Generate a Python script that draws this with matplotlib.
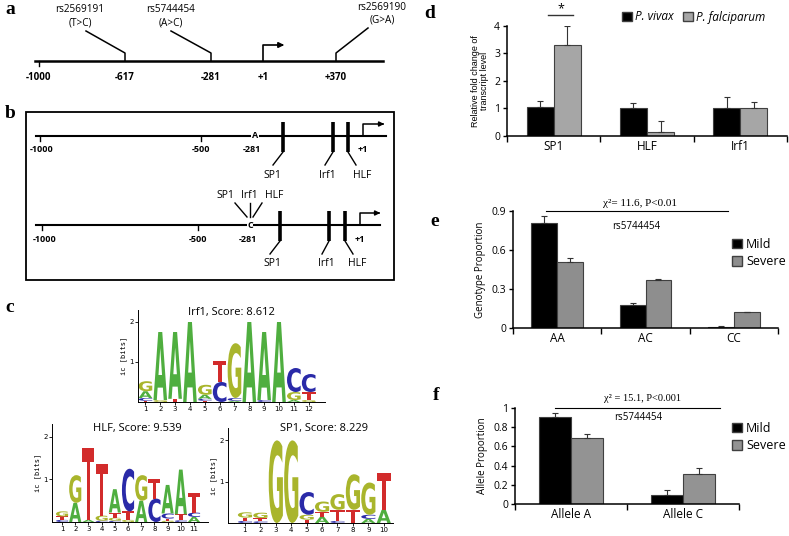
import numpy as np
import matplotlib
matplotlib.use("Agg")
import matplotlib.pyplot as plt
from matplotlib.patches import Patch, PathPatch, Rectangle
from matplotlib.textpath import TextPath
from matplotlib.font_manager import FontProperties
from matplotlib.transforms import Affine2D

W, H = 789, 536

# -----------------------------
# data
# -----------------------------
# panel d: relative fold change
d_cats = ["SP1", "HLF", "Irf1"]
d_vivax = [1.05, 1.0, 1.0]
d_vivax_err = [0.22, 0.2, 0.4]
d_falci = [3.3, 0.15, 1.02]
d_falci_err = [0.7, 0.4, 0.2]

# panel e: genotype proportion
e_cats = ["AA", "AC", "CC"]
e_mild = [0.81, 0.18, 0.01]
e_mild_err = [0.05, 0.01, 0.003]
e_severe = [0.51, 0.37, 0.12]
e_severe_err = [0.03, 0.01, 0.003]

# panel f: allele proportion
f_cats = ["Allele A", "Allele C"]
f_mild = [0.91, 0.09]
f_mild_err = [0.04, 0.06]
f_severe = [0.69, 0.31]
f_severe_err = [0.04, 0.065]

# panel a: SNP positions
a_ticks = ["-1000", "-617", "-281", "+1", "+370"]
a_snps = [("rs2569191", "(T>C)"), ("rs5744454", "(A>C)"), ("rs2569190", "(G>A)")]

# panel c: sequence logos, stacks bottom -> top (letter, bits)
irf1_logo = [
    [("T", 0.03), ("C", 0.07), ("A", 0.17), ("G", 0.25)],
    [("G", 0.05), ("A", 1.7)],
    [("T", 0.08), ("A", 1.67)],
    [("A", 2.0)],
    [("T", 0.03), ("C", 0.05), ("A", 0.1), ("G", 0.25)],
    [("C", 0.5), ("T", 0.52)],
    [("A", 0.03), ("C", 0.07), ("G", 1.37)],
    [("A", 2.0)],
    [("C", 0.05), ("A", 1.7)],
    [("A", 2.0)],
    [("A", 0.05), ("G", 0.2), ("C", 0.6)],
    [("G", 0.05), ("T", 0.2), ("C", 0.45)],
]
hlf_logo = [
    [("C", 0.05), ("T", 0.08), ("G", 0.12)],
    [("A", 0.45), ("G", 0.65)],
    [("A", 0.05), ("T", 1.68)],
    [("C", 0.03), ("G", 0.12), ("T", 1.2)],
    [("C", 0.03), ("G", 0.07), ("T", 0.12), ("A", 0.55)],
    [("G", 0.05), ("T", 0.2), ("C", 1.0)],
    [("A", 0.5), ("G", 0.6)],
    [("C", 0.55), ("T", 0.45)],
    [("G", 0.03), ("T", 0.05), ("C", 0.12), ("A", 0.67)],
    [("C", 0.04), ("T", 0.14), ("A", 1.05)],
    [("A", 0.12), ("C", 0.1), ("T", 0.45)],
]
sp1_logo = [
    [("C", 0.05), ("T", 0.08), ("G", 0.13)],
    [("C", 0.04), ("T", 0.08), ("G", 0.13)],
    [("G", 2.0)],
    [("G", 2.0)],
    [("T", 0.08), ("G", 0.12), ("C", 0.55)],
    [("A", 0.15), ("T", 0.12), ("G", 0.25)],
    [("C", 0.05), ("T", 0.27), ("G", 0.38)],
    [("T", 0.32), ("G", 0.86)],
    [("A", 0.1), ("C", 0.1), ("G", 0.78)],
    [("A", 0.32), ("T", 0.88)],
]
base_colors = {"A": "#4fae3f", "C": "#2a2aa8", "G": "#a9b52c", "T": "#d22b2b"}

SANS = "Open Sans"
SERIF = "Liberation Serif"

fig = plt.figure(figsize=(W / 100, H / 100), dpi=100)


def px_axes(l, t, r, b):
    return fig.add_axes([l / W, 1 - b / H, (r - l) / W, (b - t) / H])


# overlay in pixel coords for panels a, b and letters
ax0 = fig.add_axes([0, 0, 1, 1])
ax0.set_xlim(0, W)
ax0.set_ylim(H, 0)
ax0.axis("off")

for lab, (x, y) in zip("abcdef", [(10, 10), (10, 114), (10, 307), (430, 13), (435, 222), (436, 395)]):
    ax0.text(x, y, lab, family=SERIF, weight="bold", fontsize=14, ha="center", va="center")

# -----------------------------
# panel a
# -----------------------------
lw = 1.8
ax0.plot([35, 383], [61, 61], color="black", lw=lw)
ax0.plot([39, 39], [61, 66], color="black", lw=1)
a_x = [39, 125, 211, 263, 336]
for x, t in zip(a_x, a_ticks):
    ax0.text(x, 77, t, family=SANS, weight="bold", fontsize=7, ha="center", va="center")
snp_x = [125, 211, 336]
snp_from = [(86, 31), (171, 31), (368, 28)]
snp_lab = [(80, 10), (171, 10), (382, 7)]
for x, (fx, fy), (lx, ly), (name, change) in zip(snp_x, snp_from, snp_lab, a_snps):
    ax0.plot([fx, x, x], [fy, 53, 61], color="black", lw=1.1)
    ax0.text(lx, ly, name, family=SANS, fontsize=7.2, ha="center", va="center")
    ax0.text(lx, ly + 13, change, family=SANS, fontsize=7.2, ha="center", va="center")
ax0.plot([263, 263, 280], [61, 45, 45], color="black", lw=1.2)
ax0.annotate("", xy=(287, 45), xytext=(278, 45),
             arrowprops=dict(arrowstyle="-|>", color="black", lw=1.2, mutation_scale=8))

# -----------------------------
# panel b
# -----------------------------
ax0.add_patch(Rectangle((26, 112), 368, 168, fill=False, ec="black", lw=1.3))


def promoter(y, xend, allele, ticks_x, lab_x, sites_x, diag_x, site_lab_x, arrow_x, arrow_end):
    ax0.plot([36, xend], [y, y], color="black", lw=1.5, zorder=1)
    for x in ticks_x[:2]:
        ax0.plot([x, x], [y, y + 5], color="black", lw=1)
    for x, t in zip(lab_x, ["-1000", "-500", "-281", "+1"]):
        ax0.text(x, y + 14, t, family=SANS, weight="bold", fontsize=6.5, ha="center", va="center")
    ax0.text(ticks_x[2], y, allele, family=SANS, weight="bold", fontsize=6.5, ha="center",
             va="center", bbox=dict(fc="white", ec="none", pad=0.3), zorder=3)
    for x, dx, lx, name in zip(sites_x, diag_x, site_lab_x, ["SP1", "Irf1", "HLF"]):
        ax0.plot([x, x], [y - 14, y + 16], color="black", lw=2.6, solid_capstyle="butt")
        ax0.plot([x, dx], [y + 16, y + 29], color="black", lw=1)
        ax0.text(lx, y + 39, name, family=SANS, fontsize=7.5, ha="center", va="center")
    ax0.plot([arrow_x, arrow_x, arrow_end - 6], [y, y - 12, y - 12], color="black", lw=1.1)
    ax0.annotate("", xy=(arrow_end, y - 12), xytext=(arrow_end - 8, y - 12),
                 arrowprops=dict(arrowstyle="-|>", color="black", lw=1.1, mutation_scale=7))


promoter(136, 386, "A", [40, 201, 255], [42, 201, 252, 363], [283, 333, 348],
         [273, 325, 356], [272, 327, 362], 363, 387)
promoter(225, 380, "C", [42, 198, 250], [45, 198, 248, 360], [280, 329, 345],
         [270, 322, 353], [272, 326, 357], 360, 383)
for x, name in zip([225, 249, 274], ["SP1", "Irf1", "HLF"]):
    ax0.text(x, 196, name, family=SANS, fontsize=7.5, ha="center", va="center")
ax0.plot([235, 247], [203, 217], color="black", lw=1)
ax0.plot([250, 250], [203, 217], color="black", lw=1)
ax0.plot([262, 253], [203, 217], color="black", lw=1)

# -----------------------------
# panel c: logos
# -----------------------------
letter_font = FontProperties(family="DejaVu Sans", weight="bold")


def draw_letter(ax, ch, x, y, w, h):
    tp = TextPath((0, 0), ch, size=1, prop=letter_font)
    bb = tp.get_extents()
    tr = Affine2D().translate(-bb.x0, -bb.y0).scale(w / bb.width, h / bb.height).translate(x - w / 2, y)
    ax.add_patch(PathPatch(tr.transform_path(tp), fc=base_colors[ch], ec="none"))


def logo(rect, stacks, xlim, title, title_xy):
    ax = px_axes(*rect)
    ax.patch.set_visible(False)
    for i, stack in enumerate(stacks):
        y0 = 0
        for ch, h in stack:
            draw_letter(ax, ch, i + 1, y0, 0.92, h)
            y0 += h
    ax.set_xlim(*xlim)
    ax.set_ylim(0, 2.3)
    ax.set_xticks(range(1, len(stacks) + 1))
    ax.set_yticks([1, 2])
    ax.tick_params(labelsize=5, length=2, width=0.6, pad=1)
    for s in ["top", "right"]:
        ax.spines[s].set_visible(False)
    for s in ["left", "bottom"]:
        ax.spines[s].set_linewidth(0.7)
    ax.set_ylabel("ic [bits]", family="DejaVu Sans Mono", fontsize=5, labelpad=2)
    ax0.text(title_xy[0], title_xy[1], title, family=SANS, fontsize=8, ha="center", va="center")


logo((138, 310, 325, 402), irf1_logo, (0.5, 13.1), "Irf1, Score: 8.612", (231, 313))
logo((52, 424, 208, 522), hlf_logo, (0.24, 12.06), "HLF, Score: 9.539", (137, 428))
logo((228, 428, 393, 523), sp1_logo, (-0.1, 10.6), "SP1, Score: 8.229", (324, 428))

# -----------------------------
# bar panels
# -----------------------------


def bar_panel(rect, cats, s1, e1, s2, e2, c2, width, ylim, yticks, ylabels):
    ax = px_axes(*rect)
    ax.patch.set_visible(False)
    x = np.arange(len(cats)) + 0.5
    ax.bar(x - width / 2, s1, width, color="black", edgecolor="#404040", lw=0.8)
    ax.bar(x + width / 2, s2, width, color=c2, edgecolor="#404040", lw=0.8)
    ax.errorbar(x - width / 2, s1, yerr=[np.zeros(len(s1)), e1], fmt="none",
                ecolor="#333333", elinewidth=0.8, capsize=2, capthick=0.8)
    ax.errorbar(x + width / 2, s2, yerr=[np.zeros(len(s2)), e2], fmt="none",
                ecolor="#333333", elinewidth=0.8, capsize=2, capthick=0.8)
    ax.set_xlim(0, len(cats))
    ax.set_ylim(*ylim)
    ax.set_xticks(np.arange(len(cats) + 1))
    ax.set_xticklabels([])
    ax.set_xticks(x, minor=True)
    ax.set_xticklabels(cats, minor=True, family=SANS, fontsize=8.5)
    ax.tick_params(axis="x", which="minor", length=0, pad=3)
    ax.tick_params(axis="x", which="major", length=4, width=1)
    ax.set_yticks(yticks)
    ax.set_yticklabels(ylabels, family=SANS, fontsize=7.5)
    ax.tick_params(axis="y", length=3, width=1, pad=2)
    for s in ["top", "right"]:
        ax.spines[s].set_visible(False)
    for s in ["left", "bottom"]:
        ax.spines[s].set_linewidth(1.1)
    return ax


# panel d
axd = bar_panel((507, 25.7, 787, 135.7), d_cats, d_vivax, d_vivax_err, d_falci, d_falci_err,
                "#a6a6a6", 0.29, (0, 4), [0, 1, 2, 3, 4], ["0", "1", "2", "3", "4"])
axd.set_ylabel("Relative fold change of\ntranscript level", family="Liberation Sans",
               fontsize=6.5, linespacing=0.95, labelpad=4)
axd.plot([0.44, 0.71], [4.39, 4.39], color="#333333", lw=1, clip_on=False)
axd.text(0.575, 4.6, "*", ha="center", va="center", fontsize=9, family=SANS)
axd.legend([Patch(fc="black", ec="#404040"), Patch(fc="#a6a6a6", ec="#404040")],
           ["P. vivax", "P. falciparum"], prop=dict(family=SANS, style="italic", size=8.5),
           loc="center", bbox_to_anchor=(694 / W, 1 - 17 / H), bbox_transform=fig.transFigure,
           ncol=2, frameon=False, handlelength=0.8, handleheight=0.8, handletextpad=0.3,
           columnspacing=0.8, borderpad=0)

# panel e
axe = bar_panel((513, 211, 778, 328), e_cats, e_mild, e_mild_err, e_severe, e_severe_err,
                "#8e8e8e", 0.294, (0, 0.9), [0, 0.3, 0.6, 0.9], ["0", "0.3", "0.6", "0.9"])
axe.set_ylabel("Genotype Proportion", family=SANS, fontsize=7, labelpad=4)
axe.plot([0.37, 2.43], [0.9, 0.9], color="black", lw=0.8, clip_on=False)
axe.text(1.44, 0.96, "χ²= 11.6, P<0.01", family=SERIF, fontsize=8, ha="center", va="center")
axe.text(1.40, 0.777, "rs5744454", family=SANS, fontsize=7, ha="center", va="center")
axe.legend([Patch(fc="black", ec="#404040"), Patch(fc="#8e8e8e", ec="#404040")],
           ["Mild", "Severe"], prop=dict(family=SANS, size=9),
           loc="center left", bbox_to_anchor=(726 / W, 1 - 253 / H), bbox_transform=fig.transFigure,
           frameon=False, handlelength=0.8, handleheight=0.8, handletextpad=0.3,
           labelspacing=0.35, borderpad=0)

# panel f
axf = bar_panel((515, 408, 739, 504), f_cats, f_mild, f_mild_err, f_severe, f_severe_err,
                "#939393", 0.29, (0, 1), [0, 0.2, 0.4, 0.6, 0.8, 1],
                ["0", "0.2", "0.4", "0.6", "0.8", "1"])
axf.set_ylabel("Allele Proportion", family=SANS, fontsize=7, labelpad=4)
axf.plot([0.36, 1.83], [1.0, 1.0], color="black", lw=0.8, clip_on=False)
axf.text(1.14, 1.10, "χ² = 15.1, P<0.001", family=SERIF, fontsize=7.5, ha="center", va="center")
axf.text(1.10, 0.906, "rs5744454", family=SANS, fontsize=7, ha="center", va="center")
axf.legend([Patch(fc="black", ec="#404040"), Patch(fc="#939393", ec="#404040")],
           ["Mild", "Severe"], prop=dict(family=SANS, size=9),
           loc="center left", bbox_to_anchor=(726 / W, 1 - 437 / H), bbox_transform=fig.transFigure,
           frameon=False, handlelength=0.8, handleheight=0.8, handletextpad=0.3,
           labelspacing=0.35, borderpad=0)

fig.savefig("out.png", dpi=100)
